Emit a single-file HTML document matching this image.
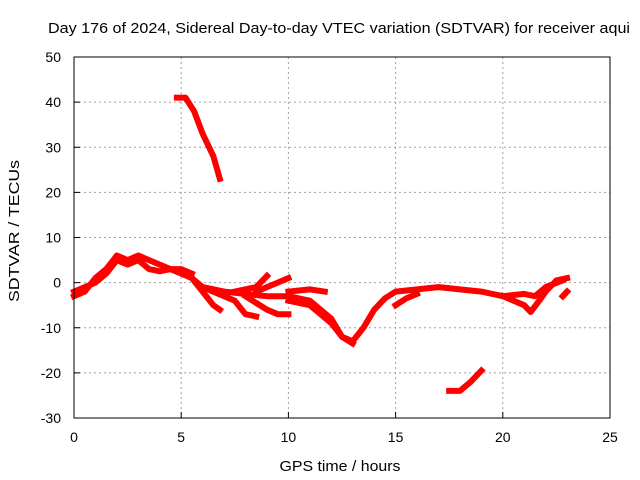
<!DOCTYPE html>
<html><head><meta charset="utf-8"><style>body{margin:0;background:#fff}svg{display:block;font-family:"Liberation Sans",sans-serif}</style></head>
<body>
<svg id="c" width="640" height="480" xmlns="http://www.w3.org/2000/svg">
<text x="339" y="33" font-size="15" text-anchor="middle" textLength="582" lengthAdjust="spacingAndGlyphs">Day 176 of 2024, Sidereal Day-to-day VTEC variation (SDTVAR) for receiver aqui</text>
<text x="340" y="471" font-size="15" text-anchor="middle" textLength="121" lengthAdjust="spacingAndGlyphs">GPS time / hours</text>
<text transform="translate(19,231) rotate(-90)" font-size="15" text-anchor="middle" textLength="142" lengthAdjust="spacingAndGlyphs">SDTVAR / TECUs</text>
<g id="grid"></g><g id="ticks"></g><g id="series"></g>
<rect x="74" y="57" width="536" height="361" fill="none" stroke="#000" stroke-width="1"/>
</svg>
<script>
const xTicks=[0,5,10,15,20,25];
const yTicks=[-30,-20,-10,0,10,20,30,40,50];
const trackA_x=[0,0.5,1,1.5,2,2.5,3,3.5,4,4.5,5,5.5,6,7,8,9,10,11,12,12.5,13,13.5,14,14.5,15,16,17,18,19,20,21,21.5,22,22.8];
const trackA_y=[-2,-1,0,2,5,4,5,3,2.5,3,2,1,-1,-2,-2.5,-3,-3,-4,-8,-12,-13,-10,-6,-3.5,-2,-1.5,-1,-1.5,-2,-3,-2.5,-3,-1,0.5];
const trackB_x=[0,0.5,1,1.5,2,2.5,3,3.5,4,4.5,5,5.5];
const trackB_y=[-3,-2,1,3,6,5,6,5,4,3,3,2];
const trackC_x=[5.5,6,6.5,6.8]; const trackC_y=[1,-2,-5,-6];
const trackD_x=[6,7,7.5,8,8.5]; const trackD_y=[-1,-3,-4,-7,-7.5];
const trackE_x=[7.5,8.5,9]; const trackE_y=[-2,-1,1.5];
const trackF_x=[8,9,9.5,10]; const trackF_y=[-3,-6,-7,-7];
const trackG_x=[8.5,9.5,10]; const trackG_y=[-2,0,1];
const trackH_x=[10,11,11.7]; const trackH_y=[-2,-1.5,-2];
const trackI_x=[10,11,11.5,12,12.5,13]; const trackI_y=[-4,-5,-7,-9,-12,-13.5];
const trackJ_x=[15,15.5,16]; const trackJ_y=[-5,-3.5,-2.5];
const trackK_x=[20,21,21.3,21.7,22,22.5,23]; const trackK_y=[-3,-5,-6.5,-4,-2,0.5,1];
const trackL_x=[22.8,23]; const trackL_y=[-3,-2];
const trackM_x=[4.8,5.2,5.6,6,6.5,6.8]; const trackM_y=[41,41,38,33,28,23];
const trackN_x=[17.5,18,18.5,19]; const trackN_y=[-24,-24,-22,-19.5];
const tracks=[[trackA_x,trackA_y],[trackB_x,trackB_y],[trackC_x,trackC_y],[trackD_x,trackD_y],[trackE_x,trackE_y],[trackF_x,trackF_y],[trackG_x,trackG_y],[trackH_x,trackH_y],[trackI_x,trackI_y],[trackJ_x,trackJ_y],[trackK_x,trackK_y],[trackL_x,trackL_y],[trackM_x,trackM_y],[trackN_x,trackN_y]];
const L=74,R=610,T=57,B=418;
const sx=v=>L+(v-0)/(25-0)*(R-L);
const sy=v=>B-(v+30)/80*(B-T);
const NS="http://www.w3.org/2000/svg";
const grid=document.getElementById('grid'),tk=document.getElementById('ticks'),sr=document.getElementById('series');
function mk(tag,attrs,parent){const e=document.createElementNS(NS,tag);for(const k in attrs)e.setAttribute(k,attrs[k]);parent.appendChild(e);return e;}
xTicks.forEach(v=>{const x=sx(v);
 if(v>0&&v<25){const g=mk('line',{x1:x,x2:x,y1:T,y2:B,stroke:'#a0a0a0','stroke-dasharray':'2,3'},grid);
 
 }
 const t=mk('line',{x1:x,x2:x,y1:B,y2:B-6,stroke:'#000'},tk);
 
 
 const l=mk('text',{x:x,y:B+24,'font-size':14,'text-anchor':'middle'},tk);l.textContent=v;
 
 });
yTicks.forEach(v=>{const y=sy(v);
 if(v>-30&&v<50){const g=mk('line',{x1:L,x2:R,y1:y,y2:y,stroke:'#a0a0a0','stroke-dasharray':'2,3'},grid);
 
 }
 const t=mk('line',{x1:L,x2:L+6,y1:y,y2:y,stroke:'#000'},tk);
 
 
 const l=mk('text',{x:L-13,y:y+5,'font-size':14,'text-anchor':'end'},tk);l.textContent=v;
 
 });
tracks.forEach(([xs,ys])=>{const p=xs.map((x,i)=>sx(x).toFixed(1)+','+sy(ys[i]).toFixed(1)).join(' ');
 const e=mk('polyline',{points:p,fill:'none',stroke:'#ff0000','stroke-width':6,'stroke-linejoin':'round','stroke-linecap':'square'},sr);
 
 });
</script>
</body></html>
